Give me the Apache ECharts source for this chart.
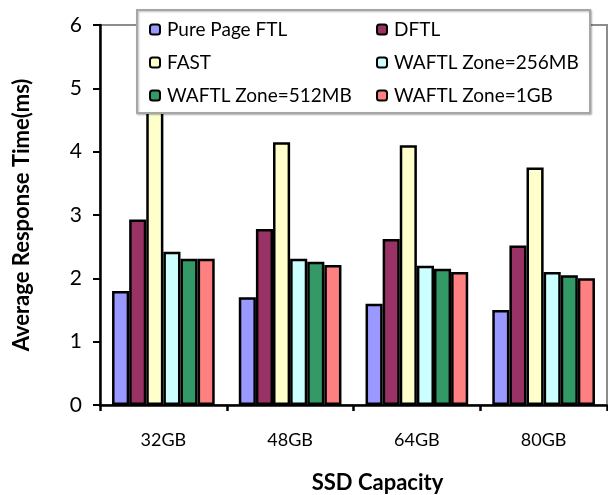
<!DOCTYPE html>
<html>
<head>
<meta charset="utf-8">
<script src="https://cdn.jsdelivr.net/npm/echarts@6/dist/echarts.min.js"></script>
<style>
  html, body { margin: 0; padding: 0; background: #fff; }
  #chart { width: 608px; height: 495px; }
</style>
</head>
<body>
<div id="chart"></div>
<script>
// SSD capacities on the x axis
const categories = ['32GB', '48GB', '64GB', '80GB'];

// Average response time (ms) per FTL scheme
const purePageFtl = [1.8, 1.7, 1.6, 1.5];
const dftl = [2.93, 2.78, 2.62, 2.52];
const fast = [4.9, 4.15, 4.1, 3.75];
const waftl256 = [2.42, 2.31, 2.2, 2.1];
const waftl512 = [2.31, 2.26, 2.15, 2.05];
const waftl1g = [2.31, 2.21, 2.1, 2.0];

const seriesNames = ['Pure Page FTL', 'DFTL', 'FAST', 'WAFTL Zone=256MB', 'WAFTL Zone=512MB', 'WAFTL Zone=1GB'];
const seriesValues = [purePageFtl, dftl, fast, waftl256, waftl512, waftl1g];
const seriesColors = ['#9999FF', '#993366', '#FFFFCC', '#CCFFFF', '#339966', '#FF8080'];

const yTicks = [0, 1, 2, 3, 4, 5, 6];

const FONT = 'Lato';

const chart = echarts.init(document.getElementById('chart'), null, { renderer: 'canvas' });

const legendCommon = {
  orient: 'vertical',
  icon: 'roundRect',
  itemWidth: 10,
  itemHeight: 10,
  itemGap: 14,
  z: 20,
  padding: 0,
  selectedMode: false,
  itemStyle: { borderColor: '#000', borderWidth: 2 },
  textStyle: { fontFamily: FONT, fontSize: 19, color: '#000', lineHeight: 19, padding: [0, 0, 0, 2] }
};

chart.setOption({
  animation: false,
  backgroundColor: '#fff',
  grid: {
    left: 100, top: 25, right: 1, bottom: 90,
    containLabel: false, outerBoundsMode: 'none',
    show: true, borderColor: '#8c8c8c', borderWidth: 2, backgroundColor: 'transparent'
  },
  graphic: [{
    type: 'rect',
    z: 15,
    shape: { x: 137, y: 10, width: 453, height: 103 },
    style: { fill: '#fff', stroke: '#a6a6a6', lineWidth: 2,
      shadowColor: 'rgba(0,0,0,0.25)', shadowBlur: 2, shadowOffsetX: 1, shadowOffsetY: 1 }
  }],
  legend: [
    Object.assign({}, legendCommon, { left: 149, top: 20, data: [seriesNames[0], seriesNames[2], seriesNames[4]] }),
    Object.assign({}, legendCommon, { left: 376, top: 20, data: [seriesNames[1], seriesNames[3], seriesNames[5]] })
  ],
  xAxis: {
    type: 'category',
    data: categories,
    name: 'SSD Capacity',
    nameLocation: 'middle',
    nameGap: 67,
    nameTextStyle: { fontFamily: FONT, fontSize: 22, fontWeight: 'bold', color: '#000', padding: [0, 0, 0, 48] },
    axisLine: { lineStyle: { color: '#000', width: 2.5 } },
    axisTick: { show: true, length: 6, lineStyle: { color: '#000', width: 2.5 } },
    axisLabel: { fontFamily: FONT, fontSize: 18, color: '#000', margin: 26 },
    splitLine: { show: false }
  },
  yAxis: {
    type: 'value',
    min: 0, max: 6, interval: 1,
    name: 'Average Response Time(ms)',
    nameLocation: 'middle',
    nameGap: 67,
    nameRotate: 90,
    nameTextStyle: { fontFamily: FONT, fontSize: 22, fontWeight: 'bold', color: '#000' },
    axisLine: { show: true, lineStyle: { color: '#000', width: 2.5 } },
    axisTick: { show: true, length: 7, lineStyle: { color: '#000', width: 2 } },
    axisLabel: {
      fontFamily: FONT, fontSize: 21, color: '#000', margin: 18,
      formatter: v => (yTicks.includes(v) ? String(v) : '')
    },
    splitLine: { show: false }
  },
  series: seriesNames.map((name, i) => ({
    name,
    type: 'bar',
    data: seriesValues[i],
    barGap: '0%',
    barCategoryGap: '19%',
    itemStyle: { color: seriesColors[i], borderColor: '#000', borderWidth: 2.5 },
    z: 2
  }))
});
</script>
</body>
</html>
